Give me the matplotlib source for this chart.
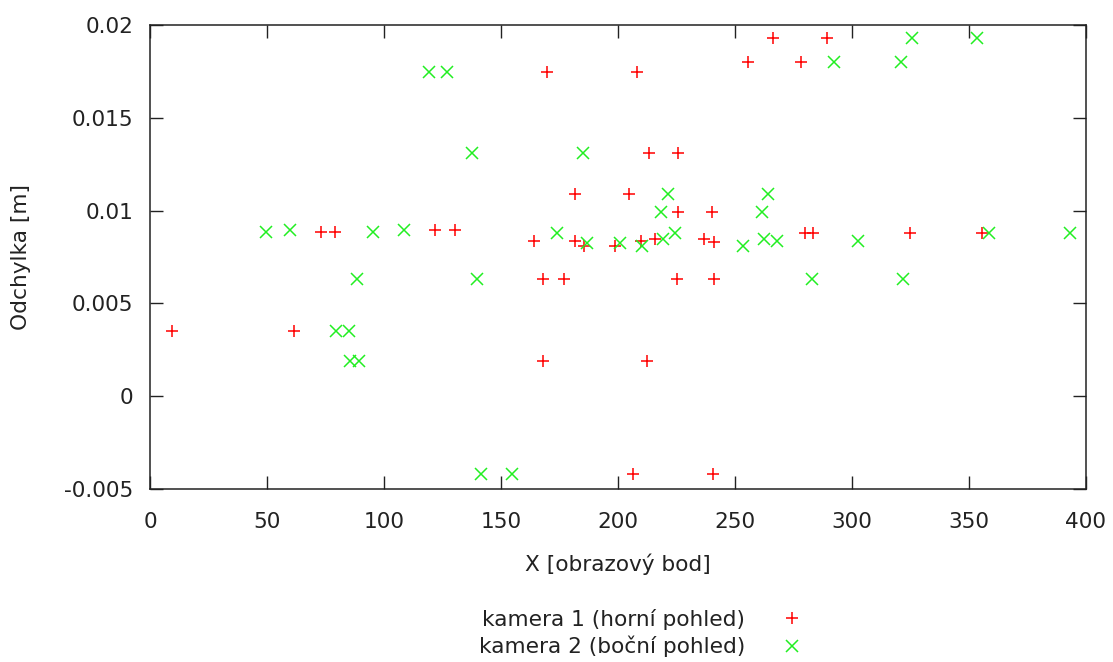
import matplotlib
matplotlib.use("Agg")
import matplotlib.pyplot as plt

# kamera 1 (horní pohled)
cam1_x = [9.5, 61.5, 73.2, 78.9, 122.0, 130.5, 164.3, 168.2, 168.2, 169.9,
          177.1, 181.6, 181.5, 185.6, 198.7, 204.8, 206.6, 208.3, 209.9, 212.6,
          213.4, 216.0, 225.7, 225.7, 225.2, 237.0, 240.2, 240.6, 241.0, 241.0,
          255.8, 266.3, 278.3, 280.0, 283.6, 289.6, 325.1, 355.6]
cam1_y = [0.0035, 0.0035, 0.00886, 0.00886, 0.00895, 0.00895, 0.00838, 0.0063, 0.0019, 0.0175,
          0.0063, 0.0109, 0.00838, 0.0081, 0.0081, 0.0109, -0.0042, 0.0175, 0.00836, 0.0019,
          0.0131, 0.00847, 0.0131, 0.0099, 0.0063, 0.00847, 0.0099, -0.0042, 0.00829, 0.0063,
          0.0180, 0.0193, 0.0180, 0.00877, 0.00877, 0.0193, 0.00877, 0.00877]

# kamera 2 (boční pohled)
cam2_x = [49.5, 59.8, 79.7, 84.9, 85.4, 89.2, 88.4, 95.2, 108.7, 119.3,
          126.9, 137.5, 139.6, 141.3, 154.9, 174.0, 185.0, 186.8, 201.0, 210.5,
          218.3, 219.3, 221.3, 224.4, 253.7, 261.8, 262.4, 264.2, 268.0, 282.9,
          292.6, 302.5, 321.1, 322.0, 325.7, 353.7, 358.9, 393.5]
cam2_y = [0.00886, 0.00895, 0.0035, 0.0035, 0.0019, 0.0019, 0.0063, 0.00886, 0.00895, 0.0175,
          0.0175, 0.0131, 0.0063, -0.0042, -0.0042, 0.00877, 0.0131, 0.00827, 0.00827, 0.0081,
          0.0099, 0.00847, 0.0109, 0.00877, 0.0081, 0.0099, 0.00847, 0.0109, 0.00838, 0.0063,
          0.0180, 0.00838, 0.0180, 0.0063, 0.0193, 0.0193, 0.00877, 0.00877]

x_ticks = [0, 50, 100, 150, 200, 250, 300, 350, 400]
y_ticks = [-0.005, 0, 0.005, 0.01, 0.015, 0.02]
y_tick_labels = ["-0.005", "0", "0.005", "0.01", "0.015", "0.02"]

FS = 15.6
plt.rcParams["font.family"] = ["DejaVu Sans"]

fig = plt.figure(figsize=(11.13, 6.62), dpi=100)
ax = fig.add_axes([150 / 1113, 1 - 488.7 / 662, 935.6 / 1113, 463.5 / 662])

ax.plot(cam1_x, cam1_y, linestyle="none", marker="+", color="#ff0000",
        markersize=9, markeredgewidth=1.1, label="kamera 1 (horní pohled)")
ax.plot(cam2_x, cam2_y, linestyle="none", marker="x", color="#22ee22",
        markersize=8.5, markeredgewidth=1.1, label="kamera 2 (boční pohled)")

ax.set_xlim(0, 400)
ax.set_ylim(-0.005, 0.02)
ax.set_xticks(x_ticks)
ax.set_yticks(y_ticks)
ax.set_yticklabels(y_tick_labels)

ax.tick_params(axis="both", direction="in", length=9.4, width=1.0,
               top=True, right=True, labelsize=FS, colors="#222222")
ax.tick_params(axis="x", pad=17)
ax.tick_params(axis="y", pad=12)
for spine in ax.spines.values():
    spine.set_linewidth(1.1)
    spine.set_color("#222222")

ax.set_xlabel("X [obrazový bod]", fontsize=FS, color="#222222", labelpad=15)
ax.set_ylabel("Odchylka [m]", fontsize=FS, color="#222222", labelpad=24)

leg = ax.legend(loc="center", bbox_to_anchor=(642 / 1113, 1 - 633 / 662),
                bbox_transform=fig.transFigure, frameon=False, markerfirst=False,
                fontsize=FS, handletextpad=1.6, labelspacing=0.28,
                handlelength=1.2, borderpad=0)
for t in leg.get_texts():
    t.set_color("#222222")

fig.savefig("out.png", dpi=100)
